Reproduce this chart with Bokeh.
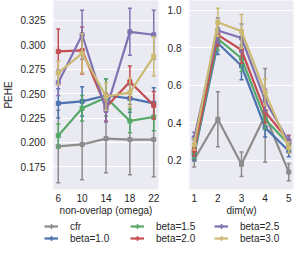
from bokeh.plotting import figure
from bokeh.layouts import column, row
from bokeh.models import ColumnDataSource, FixedTicker, Legend, LegendItem, Range1d, CustomJSTickFormatter
from bokeh.embed import file_html
from bokeh.resources import INLINE

omega = [6, 10, 14, 18, 22]
dims = [1, 2, 3, 4, 5]
labels = ["cfr", "beta=1.0", "beta=1.5", "beta=2.0", "beta=2.5", "beta=3.0"]
colors = ["#8c8c8c", "#4c72b0", "#55a868", "#c44e52", "#8172b2", "#ccb974"]

# left panel: PEHE vs omega
left_vals = [
    [0.196, 0.198, 0.204, 0.203, 0.203],
    [0.240, 0.242, 0.248, 0.245, 0.240],
    [0.207, 0.235, 0.246, 0.222, 0.226],
    [0.293, 0.294, 0.236, 0.262, 0.238],
    [0.261, 0.310, 0.233, 0.313, 0.310],
    [0.271, 0.291, 0.247, 0.251, 0.288],
]
left_err = [
    [0.037, 0.036, 0.035, 0.036, 0.038],
    [0.015, 0.015, 0.017, 0.014, 0.016],
    [0.012, 0.013, 0.019, 0.012, 0.014],
    [0.023, 0.024, 0.014, 0.016, 0.014],
    [0.013, 0.025, 0.012, 0.024, 0.025],
    [0.012, 0.020, 0.014, 0.015, 0.020],
]
# right panel: PEHE vs dim(w)
right_vals = [
    [0.205, 0.420, 0.180, 0.440, 0.138],
    [0.232, 0.825, 0.705, 0.375, 0.250],
    [0.241, 0.848, 0.745, 0.420, 0.286],
    [0.255, 0.870, 0.789, 0.460, 0.304],
    [0.320, 0.893, 0.853, 0.520, 0.300],
    [0.286, 0.937, 0.889, 0.563, 0.268],
]
right_err = [
    [0.040, 0.147, 0.065, 0.250, 0.046],
    [0.030, 0.060, 0.075, 0.050, 0.030],
    [0.030, 0.060, 0.070, 0.050, 0.030],
    [0.030, 0.060, 0.070, 0.060, 0.030],
    [0.030, 0.067, 0.075, 0.060, 0.030],
    [0.030, 0.075, 0.090, 0.070, 0.030],
]

FONT = "Liberation Sans"
TXT = "#262626"


def style(p, xticks, yticks, fmt):
    p.background_fill_color = "#eaeaf2"
    p.border_fill_color = "white"
    p.outline_line_color = None
    p.xgrid.grid_line_color = None
    p.ygrid.grid_line_color = "white"
    p.ygrid.grid_line_width = 1.2
    p.xaxis.ticker = FixedTicker(ticks=xticks)
    p.yaxis.ticker = FixedTicker(ticks=yticks)
    p.yaxis.formatter = CustomJSTickFormatter(code="return tick.toFixed(%d);" % fmt)
    for ax in p.xaxis + p.yaxis:
        ax.axis_line_color = None
        ax.major_tick_line_color = None
        ax.minor_tick_line_color = None
        ax.major_tick_out = 0
        ax.major_tick_in = 0
        ax.minor_tick_out = 0
        ax.minor_tick_in = 0
        ax.major_label_text_font = FONT
        ax.major_label_text_font_size = "10px"
        ax.major_label_text_color = TXT
        ax.axis_label_text_font = FONT
        ax.axis_label_text_font_size = "10px"
        ax.axis_label_text_font_style = "normal"
        ax.axis_label_text_color = TXT
    p.yaxis.major_label_standoff = 8
    p.xaxis.major_label_standoff = 4
    p.xaxis.axis_label_standoff = 0
    p.yaxis.axis_label_standoff = 3


def draw(p, xs, vals, errs):
    for lab, col, v, e in zip(labels, colors, vals, errs):
        src = ColumnDataSource(dict(
            x=xs, y=v,
            lo=[a - b for a, b in zip(v, e)],
            hi=[a + b for a, b in zip(v, e)],
        ))
        p.segment(x0="x", y0="lo", x1="x", y1="hi", source=src, line_color=col, line_width=1.5)
        p.scatter(x="x", y="lo", source=src, marker="dash", size=4, line_color=col, line_width=1.5)
        p.scatter(x="x", y="hi", source=src, marker="dash", size=4, line_color=col, line_width=1.5)
        p.line(x="x", y="y", source=src, line_color=col, line_width=2.2)
        p.scatter(x="x", y="y", source=src, marker="square", size=4, fill_color=col, line_color=col)


p1 = figure(width=None, height=None, frame_width=105, frame_height=189,
            output_backend="svg", toolbar_location=None,
            x_range=Range1d(5.2, 22.8), y_range=Range1d(0.152, 0.345),
            min_border_left=48, min_border_right=2, min_border_top=0, min_border_bottom=28)
style(p1, omega, [0.175, 0.2, 0.225, 0.25, 0.275, 0.3, 0.325], 3)
p1.xaxis.axis_label = "non-overlap (omega)"
p1.yaxis.axis_label = "PEHE"
draw(p1, omega, left_vals, left_err)

p2 = figure(width=None, height=None, frame_width=104, frame_height=189,
            output_backend="svg", toolbar_location=None,
            x_range=Range1d(0.8, 5.2), y_range=Range1d(0.045, 1.053),
            min_border_left=29, min_border_right=1, min_border_top=0, min_border_bottom=28)
style(p2, dims, [0.2, 0.4, 0.6, 0.8, 1.0], 1)
p2.xaxis.axis_label = "dim(w)"
draw(p2, dims, right_vals, right_err)

# legend panel
pl = figure(width=289, height=28, output_backend="svg", toolbar_location=None,
            x_range=Range1d(100, 101), y_range=Range1d(100, 101),
            min_border=0, outline_line_color=None)
pl.axis.visible = False
pl.grid.visible = False
pl.background_fill_color = None
pl.border_fill_color = None
items = {}
for lab, col, v in zip(labels, colors, left_vals):
    src = ColumnDataSource(dict(x=omega, y=v))
    r1 = pl.line(x="x", y="y", source=src, line_color=col, line_width=2.2)
    r2 = pl.scatter(x="x", y="y", source=src, marker="cross", size=11, line_color=col, line_width=1.5)
    items[lab] = LegendItem(label=lab, renderers=[r1, r2])

col_x = [44, 130, 214]
for i, x0 in enumerate(col_x):
    leg = Legend(items=[items[labels[2 * i]], items[labels[2 * i + 1]]], location=(x0, 2),
                 padding=0, margin=0, spacing=0, glyph_width=14, glyph_height=12,
                 label_height=12, label_standoff=12, label_text_font=FONT,
                 label_text_font_size="10px", label_text_color=TXT,
                 border_line_color=None, background_fill_alpha=0)
    pl.add_layout(leg, "center")

layout = column(row(p1, p2, spacing=0), pl, spacing=0)
open("out.html", "w").write(file_html(layout, INLINE))
